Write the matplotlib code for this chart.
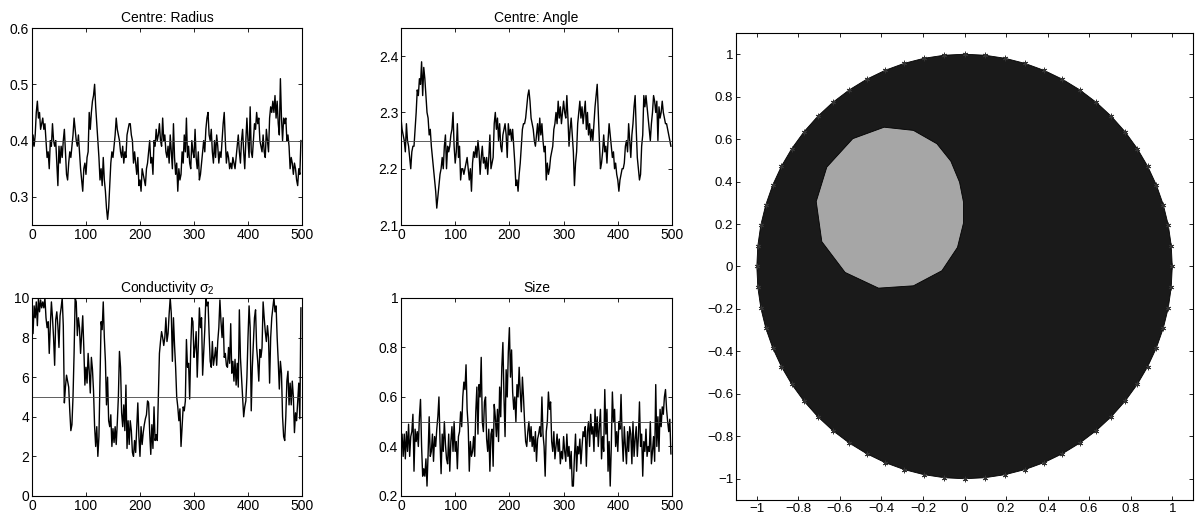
import numpy as np
import matplotlib
matplotlib.use("Agg")
import matplotlib.pyplot as plt

plt.rcParams['font.family'] = ['Liberation Sans', 'DejaVu Sans']
plt.rcParams['font.size'] = 10
plt.rcParams['mathtext.fontset'] = 'custom'
plt.rcParams['mathtext.rm'] = 'Liberation Sans'
plt.rcParams['mathtext.it'] = 'Liberation Sans'

# MCMC traces, every 2nd iteration
radius = [
    0.37, 0.41, 0.39, 0.41, 0.45, 0.47, 0.44, 0.45, 0.42, 0.43,
    0.44, 0.42, 0.43, 0.40, 0.37, 0.38, 0.35, 0.40, 0.39, 0.43,
    0.40, 0.39, 0.40, 0.36, 0.32, 0.39, 0.36, 0.39, 0.37, 0.40,
    0.42, 0.38, 0.34, 0.33, 0.36, 0.38, 0.37, 0.39, 0.41, 0.44,
    0.42, 0.40, 0.39, 0.41, 0.38, 0.35, 0.33, 0.31, 0.35, 0.36,
    0.34, 0.37, 0.38, 0.45, 0.42, 0.45, 0.47, 0.48, 0.50, 0.46,
    0.43, 0.40, 0.37, 0.33, 0.35, 0.32, 0.37, 0.33, 0.31, 0.28,
    0.26, 0.28, 0.32, 0.36, 0.38, 0.37, 0.39, 0.41, 0.44, 0.42,
    0.41, 0.40, 0.38, 0.37, 0.39, 0.36, 0.38, 0.37, 0.41, 0.42,
    0.43, 0.43, 0.41, 0.40, 0.36, 0.38, 0.36, 0.34, 0.37, 0.32,
    0.33, 0.31, 0.35, 0.34, 0.33, 0.32, 0.35, 0.36, 0.38, 0.40,
    0.36, 0.37, 0.34, 0.40, 0.39, 0.42, 0.40, 0.41, 0.43, 0.40,
    0.39, 0.44, 0.40, 0.41, 0.38, 0.37, 0.39, 0.36, 0.41, 0.38,
    0.35, 0.43, 0.37, 0.34, 0.36, 0.31, 0.35, 0.33, 0.34, 0.38,
    0.36, 0.41, 0.38, 0.44, 0.37, 0.39, 0.36, 0.35, 0.40, 0.38,
    0.37, 0.42, 0.37, 0.35, 0.38, 0.33, 0.34, 0.36, 0.38, 0.40,
    0.38, 0.42, 0.44, 0.45, 0.41, 0.40, 0.42, 0.38, 0.36, 0.40,
    0.37, 0.41, 0.39, 0.36, 0.38, 0.37, 0.40, 0.43, 0.45, 0.40,
    0.36, 0.38, 0.37, 0.35, 0.36, 0.35, 0.37, 0.36, 0.35, 0.37,
    0.39, 0.41, 0.38, 0.36, 0.40, 0.42, 0.38, 0.35, 0.40, 0.44,
    0.40, 0.37, 0.46, 0.38, 0.37, 0.40, 0.43, 0.42, 0.45, 0.43,
    0.44, 0.40, 0.39, 0.38, 0.41, 0.38, 0.37, 0.42, 0.40, 0.38,
    0.44, 0.46, 0.45, 0.47, 0.45, 0.48, 0.44, 0.47, 0.43, 0.41,
    0.51, 0.44, 0.40, 0.44, 0.43, 0.44, 0.40, 0.41, 0.39, 0.35,
    0.37, 0.36, 0.34, 0.36, 0.35, 0.33, 0.32, 0.35, 0.34, 0.40,
]

angle = [
    2.29, 2.27, 2.26, 2.25, 2.23, 2.28, 2.25, 2.24, 2.22, 2.20,
    2.23, 2.24, 2.24, 2.27, 2.30, 2.34, 2.33, 2.36, 2.35, 2.39,
    2.33, 2.38, 2.36, 2.33, 2.30, 2.29, 2.26, 2.27, 2.24, 2.22,
    2.20, 2.18, 2.16, 2.13, 2.15, 2.17, 2.19, 2.20, 2.22, 2.20,
    2.24, 2.26, 2.20, 2.24, 2.23, 2.24, 2.26, 2.27, 2.30, 2.24,
    2.21, 2.23, 2.28, 2.22, 2.24, 2.18, 2.20, 2.20, 2.19, 2.20,
    2.21, 2.22, 2.20, 2.18, 2.20, 2.16, 2.21, 2.23, 2.22, 2.24,
    2.22, 2.25, 2.23, 2.19, 2.22, 2.24, 2.21, 2.22, 2.20, 2.22,
    2.19, 2.22, 2.26, 2.20, 2.21, 2.22, 2.28, 2.30, 2.27, 2.29,
    2.25, 2.28, 2.24, 2.23, 2.26, 2.27, 2.28, 2.26, 2.22, 2.28,
    2.26, 2.27, 2.25, 2.27, 2.24, 2.21, 2.17, 2.18, 2.16, 2.19,
    2.21, 2.24, 2.27, 2.28, 2.28, 2.29, 2.31, 2.33, 2.34, 2.32,
    2.29, 2.28, 2.27, 2.25, 2.24, 2.26, 2.28, 2.25, 2.29, 2.26,
    2.28, 2.25, 2.23, 2.24, 2.18, 2.21, 2.19, 2.20, 2.22, 2.23,
    2.24, 2.27, 2.28, 2.30, 2.28, 2.32, 2.29, 2.31, 2.28, 2.30,
    2.32, 2.30, 2.29, 2.33, 2.29, 2.24, 2.27, 2.29, 2.26, 2.23,
    2.17, 2.21, 2.23, 2.28, 2.30, 2.32, 2.29, 2.31, 2.28, 2.30,
    2.32, 2.27, 2.30, 2.26, 2.28, 2.25, 2.27, 2.25, 2.28, 2.31,
    2.33, 2.35, 2.30, 2.25, 2.20, 2.21, 2.23, 2.26, 2.23, 2.24,
    2.21, 2.25, 2.28, 2.26, 2.24, 2.22, 2.23, 2.20, 2.21, 2.19,
    2.18, 2.16, 2.18, 2.19, 2.20, 2.20, 2.21, 2.24, 2.25, 2.23,
    2.28, 2.25, 2.22, 2.26, 2.28, 2.31, 2.33, 2.27, 2.22, 2.20,
    2.18, 2.19, 2.24, 2.26, 2.33, 2.31, 2.33, 2.31, 2.29, 2.27,
    2.25, 2.28, 2.30, 2.33, 2.32, 2.30, 2.32, 2.25, 2.31, 2.29,
    2.30, 2.32, 2.30, 2.29, 2.28, 2.28, 2.27, 2.26, 2.25, 2.24,
]

conductivity = [
    9.5, 8.2, 9.6, 9.0, 9.8, 8.6, 10.0, 9.3, 9.9, 9.5,
    9.8, 9.5, 10.0, 9.0, 8.5, 8.8, 7.2, 8.6, 9.8, 9.0,
    8.0, 6.6, 8.9, 9.3, 8.6, 7.5, 9.1, 9.5, 10.0, 8.6,
    4.7, 5.5, 6.1, 5.8, 5.5, 4.3, 3.3, 3.6, 5.0, 7.2,
    10.0, 9.8, 8.1, 9.0, 8.5, 7.2, 8.2, 9.1, 7.5, 5.6,
    6.5, 5.7, 7.2, 6.3, 5.2, 7.0, 6.4, 5.3, 3.5, 2.5,
    3.5, 2.0, 3.0, 6.0, 8.8, 8.4, 9.8, 8.0, 6.8, 4.6,
    6.0, 3.8, 3.5, 4.1, 2.5, 3.4, 2.7, 3.5, 2.6, 3.7,
    5.0, 7.3, 6.5, 4.2, 3.5, 4.6, 3.3, 5.6, 2.4, 3.8,
    2.6, 3.8, 3.3, 2.2, 2.0, 2.8, 2.2, 3.5, 4.7, 3.0,
    2.0, 3.5, 2.6, 3.2, 3.6, 3.9, 4.1, 4.8, 4.7, 3.2,
    2.1, 3.6, 2.4, 4.5, 2.8, 3.1, 2.8, 5.0, 7.2, 7.8,
    8.3, 8.0, 7.6, 8.0, 9.0, 7.8, 8.2, 9.2, 10.0, 9.2,
    6.8, 9.0, 7.6, 6.5, 5.0, 4.5, 3.8, 4.4, 2.5, 3.5,
    4.5, 4.3, 4.8, 7.9, 6.5, 6.7, 4.9, 7.5, 9.0, 8.8,
    7.0, 7.5, 8.3, 6.0, 7.6, 9.5, 8.5, 9.0, 6.1, 7.3,
    8.4, 10.0, 9.6, 9.8, 8.2, 6.8, 6.5, 7.8, 6.6, 7.0,
    7.5, 6.6, 7.8, 8.5, 9.9, 8.8, 8.0, 9.0, 7.0, 7.2,
    6.6, 6.5, 7.5, 6.7, 8.7, 6.2, 6.8, 5.8, 6.9, 5.6,
    6.7, 5.5, 9.4, 7.0, 6.0, 5.0, 4.0, 4.5, 4.8, 6.0,
    8.0, 9.6, 8.5, 4.3, 6.5, 7.8, 9.0, 9.4, 7.5, 6.8,
    5.8, 7.4, 7.0, 7.5, 9.8, 9.0, 8.3, 7.8, 8.6, 8.0,
    5.7, 8.0, 9.0, 9.5, 10.0, 9.3, 9.6, 8.0, 6.8, 5.4,
    6.8, 6.2, 4.0, 3.0, 2.8, 4.0, 5.8, 6.3, 4.6, 5.7,
    4.6, 5.8, 5.0, 3.2, 4.2, 3.8, 4.8, 5.7, 3.9, 9.5,
]

size = [
    0.40, 0.45, 0.36, 0.45, 0.35, 0.46, 0.38, 0.49, 0.36, 0.44,
    0.46, 0.53, 0.30, 0.47, 0.42, 0.46, 0.40, 0.52, 0.59, 0.40,
    0.28, 0.31, 0.28, 0.35, 0.24, 0.37, 0.52, 0.36, 0.38, 0.45,
    0.34, 0.44, 0.40, 0.47, 0.52, 0.60, 0.42, 0.29, 0.45, 0.38,
    0.50, 0.41, 0.35, 0.33, 0.45, 0.30, 0.42, 0.48, 0.38, 0.50,
    0.38, 0.42, 0.31, 0.44, 0.46, 0.54, 0.48, 0.60, 0.66, 0.63,
    0.73, 0.55, 0.48, 0.30, 0.42, 0.36, 0.38, 0.44, 0.36, 0.54,
    0.64, 0.45, 0.65, 0.60, 0.76, 0.50, 0.46, 0.58, 0.60, 0.43,
    0.38, 0.47, 0.30, 0.45, 0.47, 0.32, 0.57, 0.52, 0.44, 0.55,
    0.42, 0.64, 0.52, 0.72, 0.82, 0.60, 0.44, 0.71, 0.60, 0.78,
    0.88, 0.68, 0.79, 0.62, 0.55, 0.60, 0.50, 0.65, 0.60, 0.72,
    0.62, 0.54, 0.68, 0.60, 0.50, 0.42, 0.40, 0.46, 0.50, 0.42,
    0.48, 0.40, 0.44, 0.38, 0.46, 0.34, 0.43, 0.45, 0.48, 0.44,
    0.60, 0.45, 0.40, 0.28, 0.46, 0.50, 0.62, 0.55, 0.58, 0.42,
    0.38, 0.46, 0.35, 0.40, 0.45, 0.38, 0.43, 0.33, 0.38, 0.35,
    0.44, 0.38, 0.34, 0.45, 0.36, 0.40, 0.31, 0.38, 0.24, 0.24,
    0.36, 0.45, 0.30, 0.40, 0.37, 0.43, 0.33, 0.40, 0.46, 0.44,
    0.48, 0.32, 0.46, 0.50, 0.40, 0.53, 0.45, 0.48, 0.38, 0.55,
    0.44, 0.52, 0.40, 0.48, 0.55, 0.35, 0.44, 0.38, 0.63, 0.45,
    0.55, 0.30, 0.42, 0.24, 0.40, 0.62, 0.50, 0.55, 0.40, 0.46,
    0.38, 0.50, 0.47, 0.61, 0.44, 0.34, 0.48, 0.40, 0.33, 0.46,
    0.38, 0.48, 0.45, 0.33, 0.50, 0.36, 0.43, 0.48, 0.36, 0.44,
    0.58, 0.40, 0.45, 0.28, 0.42, 0.38, 0.47, 0.36, 0.40, 0.38,
    0.50, 0.33, 0.38, 0.44, 0.34, 0.65, 0.40, 0.52, 0.38, 0.55,
    0.48, 0.56, 0.53, 0.60, 0.63, 0.55, 0.50, 0.46, 0.51, 0.37,
]

iterations = np.arange(0, 500, 2)

# true values (horizontal reference lines)
true_radius = 0.4
true_angle = 2.25
true_cond = 5
true_size = 0.5

# inclusion polygon (x, y) and electrode count
incl_x = [-0.387, -0.246, -0.133, -0.066, -0.024, -0.005, -0.005, -0.034,
          -0.109, -0.246, -0.414, -0.575, -0.687, -0.714, -0.663, -0.538]
incl_y = [0.656, 0.641, 0.578, 0.496, 0.397, 0.303, 0.205, 0.090,
          -0.020, -0.091, -0.102, -0.028, 0.117, 0.306, 0.468, 0.602]
n_electrodes = 64

fig = plt.figure(figsize=(11.97, 5.2), dpi=100)


def style(ax, fs=10):
    ax.tick_params(direction='in', top=True, right=True, length=3, width=0.6,
                   labelsize=fs, pad=2)
    for s in ax.spines.values():
        s.set_linewidth(0.8)


panels = [
    ([0.0267, 0.5673, 0.2256, 0.3788], radius, true_radius, (0.25, 0.6),
     [0.3, 0.4, 0.5, 0.6], 'Centre: Radius'),
    ([0.3350, 0.5673, 0.2264, 0.3788], angle, true_angle, (2.1, 2.45),
     [2.1, 2.2, 2.3, 2.4], 'Centre: Angle'),
    ([0.0267, 0.0462, 0.2256, 0.3808], conductivity, true_cond, (0, 10),
     [0, 2, 4, 6, 8, 10], r'Conductivity $\sigma_2$'),
    ([0.3350, 0.0462, 0.2264, 0.3808], size, true_size, (0.2, 1),
     [0.2, 0.4, 0.6, 0.8, 1], 'Size'),
]

for rect, vals, truth, ylim, yticks, title in panels:
    ax = fig.add_axes(rect)
    ax.plot(iterations, vals, color='black', lw=1.0)
    ax.axhline(truth, color='#444444', lw=0.6)
    ax.set_xlim(0, 500)
    ax.set_ylim(*ylim)
    ax.set_xticks([0, 100, 200, 300, 400, 500])
    ax.set_yticks(yticks)
    ax.set_yticklabels([f'{t:g}' for t in yticks])
    ax.set_title(title, fontsize=10, pad=4)
    style(ax)

# reconstructed image
ax = fig.add_axes([0.6149, 0.0385, 0.3818, 0.8981])
theta = np.linspace(0, 2 * np.pi, n_electrodes, endpoint=False)
ex, ey = np.cos(theta), np.sin(theta)
ax.fill(ex, ey, color='#1a1a1a', ec='black', lw=0.6)
ax.fill(incl_x, incl_y, color='#a6a6a6', ec='black', lw=0.6)
ax.plot(ex, ey, ls='none', marker=(6, 2, 0), color='#333333', ms=4, mew=0.6)
ax.set_xlim(-1.1, 1.1)
ax.set_ylim(-1.1, 1.1)
ticks = np.round(np.arange(-1, 1.01, 0.2), 1)
labels = [f'{t:g}'.replace('-', '\u2212') for t in ticks]
labels = ['0' if l in ('\u22120', '0') else l for l in labels]
ax.set_xticks(ticks)
ax.set_xticklabels(labels)
ax.set_yticks(ticks)
ax.set_yticklabels(labels)
style(ax, fs=9.5)

fig.savefig('out.png', dpi=100)
